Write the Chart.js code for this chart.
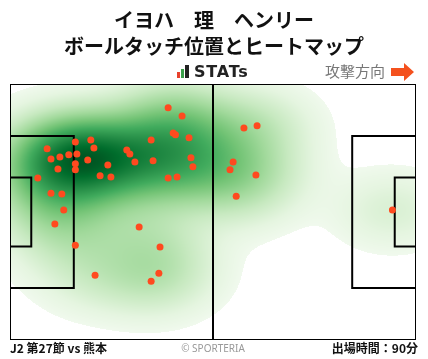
<!DOCTYPE html>
<html>
<head>
<meta charset="utf-8">
<script src="https://cdn.jsdelivr.net/npm/chart.js@4.4.0/dist/chart.umd.min.js"></script>
<style>
  body { margin: 0; background: #fff; font-family: "Noto Sans CJK JP", "Noto Sans", sans-serif; }
  #wrap { position: relative; width: 428px; height: 359px; overflow: hidden; }
  #chart { position: absolute; left: 0; top: 0; }
  .t { position: absolute; white-space: nowrap; line-height: 1; }
  #title1, #title2 { left: 0; width: 428px; text-align: center; font-size: 20px; font-weight: bold; color: #111; }
  #title1 { top: 10px; }
  #title2 { top: 36px; }
  #logo { left: 177px; top: 64px; font-family: "DejaVu Sans", sans-serif; font-weight: bold; font-size: 16px; color: #222; letter-spacing: 0.8px; }
  #logo i { display: inline-block; width: 3px; margin-right: 1px; vertical-align: -1px; }
  #dir { left: 325px; top: 63px; font-size: 15px; color: #777; }
  #arrow { position: absolute; left: 391px; top: 63px; }
  #foot1 { left: 10px; top: 342px; font-size: 12px; font-weight: bold; color: #111; }
  #foot2 { left: 0; width: 426px; text-align: center; top: 343px; font-size: 10px; color: #999; font-family: "Noto Sans", sans-serif; }
  #foot3 { right: 10px; top: 342px; font-size: 12px; font-weight: bold; color: #111; }
</style>
</head>
<body>
<div id="wrap">
  <canvas id="chart" width="428" height="359"></canvas>
  <div class="t" id="title1">イヨハ　理　ヘンリー</div>
  <div class="t" id="title2">ボールタッチ位置とヒートマップ</div>
  <div class="t" id="logo"><i style="height:6px;background:#e8412c"></i><i style="height:9px;background:#3aa04a"></i><i style="height:13px;width:4px;background:#222;margin-right:5px"></i>STATs</div>
  <div class="t" id="dir">攻撃方向</div>
  <svg id="arrow" width="24" height="18"><polygon points="0,5 13,5 13,0 23,9 13,18 13,13 0,13" fill="#f4511e"/></svg>
  <div class="t" id="foot1">J2 第27節 vs 熊本</div>
  <div class="t" id="foot2">© SPORTERIA</div>
  <div class="t" id="foot3">出場時間：90分</div>
</div>
<script>
// touch positions in metres (x: own goal line -> opponent goal line, y: from top touchline)
var touchX = [40.9, 44.5, 42.2, 42.8, 46.3, 36.5, 20.9, 16.9, 9.6, 21.7,
              30.2, 31.0, 17.3, 15.2, 12.9, 10.6, 20.1, 32.3, 37.0, 46.8,
              16.9, 25.3, 47.3, 12.4, 16.9, 23.3, 26.1, 40.9, 43.2, 7.2,
              10.6, 13.4, 13.9, 11.6, 33.4, 16.9, 38.8, 38.5, 36.5, 22.0,
              60.5, 63.9, 57.7, 56.9, 63.6, 58.5, 98.9];
var touchY = [6.3, 8.5, 13.0, 13.5, 14.3, 14.9, 14.9, 15.4, 17.2, 17.0,
              17.5, 18.6, 18.6, 18.8, 19.4, 19.9, 20.2, 20.7, 20.4, 19.6,
              21.2, 21.5, 22.0, 22.6, 22.8, 24.4, 24.7, 25.0, 24.7, 25.0,
              29.0, 29.2, 33.5, 37.2, 38.0, 42.8, 43.3, 50.3, 52.4, 50.8,
              11.7, 11.1, 20.7, 22.8, 24.2, 29.8, 33.5];

// pitch size (metres)
var pitchLength = 105, pitchWidth = 68;
var penaltyDepth = 16.5, penaltyWidth = 40.32;
var goalAreaDepth = 5.5, goalAreaWidth = 18.32;

function boxLines(depth, width, fromRight) {
  var y0 = (pitchWidth - width) / 2, y1 = (pitchWidth + width) / 2;
  var edge = fromRight ? pitchLength : 0;
  var inner = fromRight ? pitchLength - depth : depth;
  return [{x: edge, y: y0}, {x: inner, y: y0}, {x: inner, y: y1}, {x: edge, y: y1}];
}

var lineStyle = { type: 'line', borderColor: '#000', borderWidth: 2, pointRadius: 0,
                  fill: false, tension: 0, order: 1 };
function pitchSet(points) {
  return Object.assign({}, lineStyle, { data: points });
}

var touches = [];
for (var i = 0; i < touchX.length; i++) {
  touches.push({x: touchX[i], y: touchY[i]});
}

// Greens colour map
var greens = ['#f7fcf5', '#e5f5e0', '#c7e9c0', '#a1d99b', '#74c476', '#41ab5d', '#238b45', '#006d2c', '#00441b'];
function hexRgb(h) {
  return [parseInt(h.substr(1, 2), 16), parseInt(h.substr(3, 2), 16), parseInt(h.substr(5, 2), 16)];
}
var greenRgb = greens.map(hexRgb);
function greenAt(t) {
  var p = t * (greenRgb.length - 1);
  var k = Math.min(Math.floor(p), greenRgb.length - 2);
  var f = p - k;
  var a = greenRgb[k], b = greenRgb[k + 1];
  return [a[0] + (b[0] - a[0]) * f, a[1] + (b[1] - a[1]) * f, a[2] + (b[2] - a[2]) * f];
}

var heatCache = null;
var kdeHeat = {
  id: 'kdeHeat',
  beforeDatasetsDraw: function(chart) {
    var area = chart.chartArea;
    var xs = chart.scales.x, ys = chart.scales.y;
    var w = Math.round(area.right - area.left), h = Math.round(area.bottom - area.top);
    if (!heatCache) {
      var bx = 9.5, by = 6.5;
      var dens = new Float32Array(w * h), max = 0;
      for (var py = 0; py < h; py++) {
        var my = ys.getValueForPixel(area.top + py + 0.5);
        for (var px = 0; px < w; px++) {
          var mx = xs.getValueForPixel(area.left + px + 0.5);
          var s = 0;
          for (var j = 0; j < touchX.length; j++) {
            var dx = (mx - touchX[j]) / bx, dy = (my - touchY[j]) / by;
            s += Math.exp(-0.5 * (dx * dx + dy * dy));
          }
          dens[py * w + px] = s;
          if (s > max) max = s;
        }
      }
      var off = document.createElement('canvas');
      off.width = w; off.height = h;
      var octx = off.getContext('2d');
      var img = octx.createImageData(w, h);
      var thr = 0.012;
      for (var n = 0; n < w * h; n++) {
        var d = dens[n] / max;
        if (d < thr) continue;
        var c = greenAt(0.04 + 0.91 * Math.pow((d - thr) / (1 - thr), 0.68));
        img.data[n * 4] = c[0];
        img.data[n * 4 + 1] = c[1];
        img.data[n * 4 + 2] = c[2];
        img.data[n * 4 + 3] = 255;
      }
      octx.putImageData(img, 0, 0);
      heatCache = off;
    }
    chart.ctx.drawImage(heatCache, area.left, area.top);
  }
};

new Chart(document.getElementById('chart'), {
  type: 'scatter',
  data: {
    datasets: [
      { type: 'scatter', data: touches, backgroundColor: '#ff4a1f', borderWidth: 0,
        pointRadius: 3.5, order: 0 },
      pitchSet([{x: 0, y: 0}, {x: pitchLength, y: 0}, {x: pitchLength, y: pitchWidth}, {x: 0, y: pitchWidth}, {x: 0, y: 0}]),
      pitchSet([{x: pitchLength / 2, y: 0}, {x: pitchLength / 2, y: pitchWidth}]),
      pitchSet(boxLines(penaltyDepth, penaltyWidth, false)),
      pitchSet(boxLines(goalAreaDepth, goalAreaWidth, false)),
      pitchSet(boxLines(penaltyDepth, penaltyWidth, true)),
      pitchSet(boxLines(goalAreaDepth, goalAreaWidth, true))
    ]
  },
  options: {
    responsive: false,
    animation: false,
    layout: { padding: { left: 10, right: 12, top: 84, bottom: 19 } },
    plugins: { legend: { display: false }, tooltip: { enabled: false } },
    scales: {
      x: { type: 'linear', display: false, min: 0, max: pitchLength },
      y: { type: 'linear', display: false, min: 0, max: pitchWidth, reverse: true }
    }
  },
  plugins: [kdeHeat]
});
</script>
</body>
</html>
